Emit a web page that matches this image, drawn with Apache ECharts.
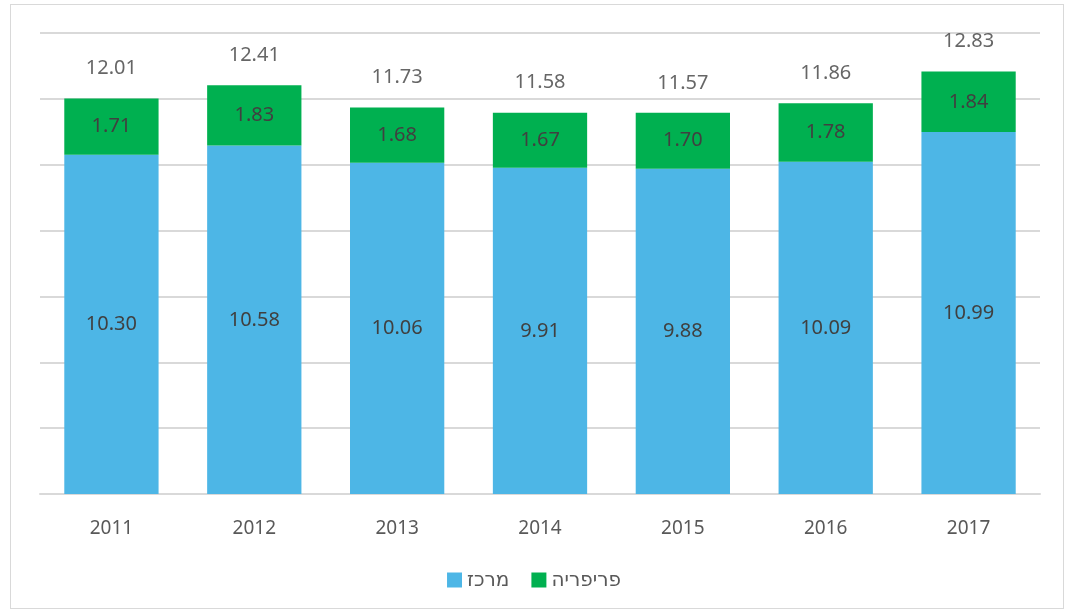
<!DOCTYPE html>
<html><head><meta charset="utf-8">
<script src="https://cdn.jsdelivr.net/npm/echarts@6/dist/echarts.min.js"></script>
<style>html,body{margin:0;padding:0;background:#fff}#c{width:1068px;height:615px}
#frame{position:absolute;left:10px;top:4px;width:1054px;height:605px;border:1px solid #d9d9d9;box-sizing:border-box;pointer-events:none}</style>
</head><body><div id="c"></div><div id="frame"></div>
<script>
const years = ['2011','2012','2013','2014','2015','2016','2017'];
const center = [10.30, 10.58, 10.06, 9.91, 9.88, 10.09, 10.99];
const periphery = [1.71, 1.83, 1.68, 1.67, 1.70, 1.78, 1.84];
const totals = [12.01, 12.41, 11.73, 11.58, 11.57, 11.86, 12.83];
const names = ['מרכז', 'פריפריה'];

const FONT = "'Noto Sans', 'DejaVu Sans', sans-serif";
const chart = echarts.init(document.getElementById('c'));
const inLabel = {show: true, position: 'inside', color: '#404040', fontSize: 20, fontFamily: FONT,
  formatter: p => p.value.toFixed(2)};
chart.setOption({
  animation: false,
  grid: {left: 40, right: 28, top: 33, bottom: 121},
  legend: {
    data: names, bottom: 20, left: 'center', itemWidth: 15, itemHeight: 15, itemGap: 22, icon: 'rect',
    textStyle: {color: '#595959', fontSize: 20, fontFamily: FONT}
  },
  xAxis: {
    type: 'category', data: years,
    axisLine: {lineStyle: {color: '#d9d9d9', width: 2}},
    axisTick: {show: false},
    axisLabel: {color: '#595959', fontSize: 19, fontFamily: FONT, margin: 25}
  },
  yAxis: {
    type: 'value', min: 0, max: 14, interval: 2,
    axisLabel: {show: false}, axisLine: {show: false}, axisTick: {show: false},
    splitLine: {lineStyle: {color: '#d9d9d9', width: 2}}
  },
  series: [
    {name: names[0], type: 'bar', stack: 's', data: center, barWidth: '66%',
     itemStyle: {color: '#4DB6E6'}, label: inLabel},
    {name: names[1], type: 'bar', stack: 's', data: periphery,
     itemStyle: {color: '#00B050'}, label: inLabel},
    {name: 'total', type: 'scatter', data: totals, symbolSize: 0, silent: true,
     label: {show: true, position: 'top', distance: 20, color: '#404040', fontSize: 20, fontFamily: FONT,
       formatter: p => p.value.toFixed(2)}}
  ]
});
</script></body></html>
